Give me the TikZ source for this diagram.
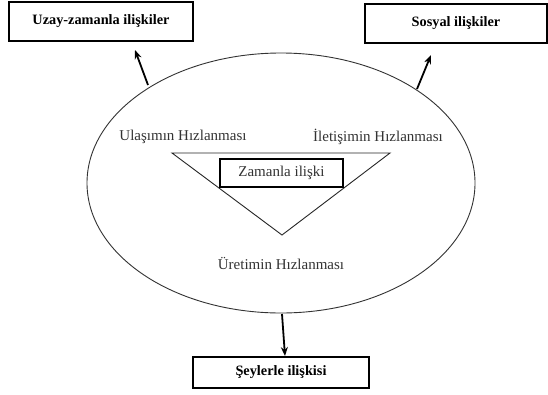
\documentclass[tikz,border=0pt]{standalone}
\usepackage{fontspec}
\setmainfont{Liberation Serif}
\usetikzlibrary{shapes.geometric,arrows.meta}
\begin{document}
\begin{tikzpicture}[x=1pt,y=-1pt,
  outbox/.style={draw=black,line width=1.8pt,inner sep=0pt,font=\fontsize{14.3}{16}\selectfont\bfseries},
  label/.style={inner sep=0pt,font=\fontsize{15}{17}\selectfont,text=black!80},
  conn/.style={line width=1.8pt,-{Stealth[length=9pt,width=7pt]}}]
\useasboundingbox (0,0) rectangle (548,394);
\fill[white] (0,0) rectangle (548,394);
% ellipse
\node[ellipse,draw=black!80,line width=0.9pt,minimum width=388pt,minimum height=260pt,inner sep=0pt] (ell) at (281,183) {};
% outer boxes
\node[outbox,minimum width=184pt,minimum height=39pt] (uz) at (101,21.5) {Uzay-zamanla ilişkiler};
\node[outbox,minimum width=182pt,minimum height=39pt] (so) at (456,23.5) {Sosyal ilişkiler};
\node[outbox,minimum width=176pt,minimum height=31pt] (se) at (281,372.5) {Şeylerle ilişkisi};
% triangle
\coordinate (tl) at (172,153);
\coordinate (tr) at (390,153);
\coordinate (tb) at (282,235);
\draw[black!85,line width=0.9pt] (tl) -- (tr) -- (tb) -- cycle;
% inner box
\node[draw=black,line width=1.6pt,fill=white,minimum width=123pt,minimum height=28pt,inner sep=0pt,font=\fontsize{15}{17}\selectfont,text=black!80] (za) at (281.5,173) {Zamanla ilişki};
% labels
\node[label] (ul) at (183,137) {Ulaşımın Hızlanması};
\node[label] (il) at (378,137) {İletişimin Hızlanması};
\node[label] (ur) at (281,263) {Üretimin Hızlanması};
% arrows
\coordinate (a1s) at (148,85);
\coordinate (a1e) at (135,50);
\coordinate (a2s) at (417,89);
\coordinate (a2e) at (431,55);
\coordinate (a3s) at (282,314);
\coordinate (a3e) at (285,356);
\draw[conn] (a1s) -- (a1e);
\draw[conn] (a2s) -- (a2e);
\draw[conn] (a3s) -- (a3e);
\end{tikzpicture}
\end{document}
